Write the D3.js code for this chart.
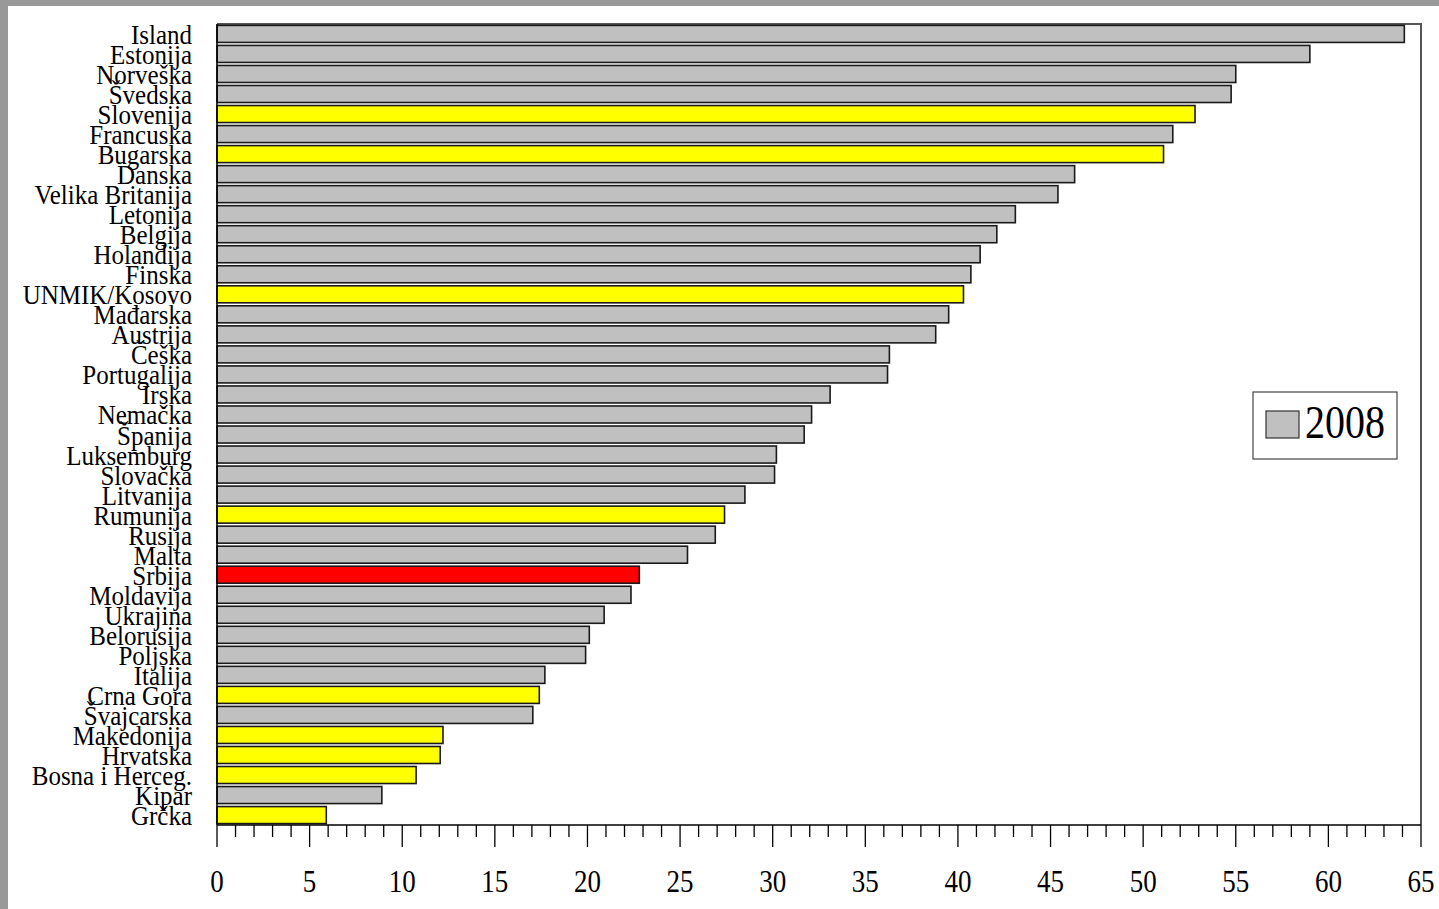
<!DOCTYPE html>
<html>
<head>
<meta charset="utf-8">
<script src="https://cdn.jsdelivr.net/npm/d3@7"></script>
<style>
  html, body { margin: 0; padding: 0; background: #fff; }
  svg { display: block; }
</style>
</head>
<body>
<div id="chart"></div>
<script>
const countries = [
    "Island", "Estonija", "Norveška", "Švedska", "Slovenija", "Francuska", "Bugarska",
    "Danska", "Velika Britanija", "Letonija", "Belgija", "Holandija", "Finska",
    "UNMIK/Kosovo", "Mađarska", "Austrija", "Češka", "Portugalija", "Irska",
    "Nemačka", "Španija", "Luksemburg", "Slovačka", "Litvanija", "Rumunija",
    "Rusija", "Malta", "Srbija", "Moldavija", "Ukrajina", "Belorusija", "Poljska",
    "Italija", "Crna Gora", "Švajcarska", "Makedonija", "Hrvatska", "Bosna i Herceg.",
    "Kipar", "Grčka"
];
const values2008 = [
    64.1, 59.0, 55.0, 54.75, 52.8, 51.6, 51.1,
    46.3, 45.4, 43.1, 42.1, 41.2, 40.7,
    40.3, 39.5, 38.8, 36.3, 36.2, 33.1,
    32.1, 31.7, 30.2, 30.1, 28.5, 27.4,
    26.9, 25.4, 22.8, 22.35, 20.9, 20.1, 19.9,
    17.7, 17.4, 17.05, 12.2, 12.05, 10.75,
    8.9, 5.9
];
// yellow = region neighbours, red = Serbia
const highlightYellow = ["Slovenija", "Bugarska", "UNMIK/Kosovo", "Rumunija", "Crna Gora",
    "Makedonija", "Hrvatska", "Bosna i Herceg.", "Grčka"];
const highlightRed = ["Srbija"];
const xTicks = d3.range(0, 66, 5);
const legendLabel = "2008";

const width = 1439, height = 909;
const plotLeft = 217, plotRight = 1421, plotTop = 24, plotBottom = 825;
const serif = "'Liberation Serif', 'Times New Roman', 'DejaVu Serif', serif";

const svg = d3.select("#chart").append("svg")
    .attr("width", width)
    .attr("height", height)
    .attr("font-family", serif);

// grey frame (top and left bands of the original screenshot)
svg.append("rect").attr("x", 0).attr("y", 0).attr("width", width).attr("height", 6).attr("fill", "#999");
svg.append("rect").attr("x", 0).attr("y", 0).attr("width", 8).attr("height", height).attr("fill", "#999");

const x = d3.scaleLinear().domain([0, 65]).range([plotLeft, plotRight]);
const y = d3.scaleBand().domain(countries).range([plotTop, plotBottom]).paddingInner(0.15).paddingOuter(0.07);

const data = countries.map((c, i) => ({ name: c, value: values2008[i] }));

function barColor(name) {
    if (highlightRed.includes(name)) return "#ff0000";
    if (highlightYellow.includes(name)) return "#ffff00";
    return "#c0c0c0";
}

// plot frame (top + right)
svg.append("path")
    .attr("d", `M${plotLeft},${plotTop}H${plotRight}V${plotBottom}`)
    .attr("fill", "none")
    .attr("stroke", "#555")
    .attr("stroke-width", 2);

svg.append("g").selectAll("rect")
    .data(data)
    .join("rect")
    .attr("x", x(0))
    .attr("y", d => y(d.name))
    .attr("width", d => x(d.value) - x(0))
    .attr("height", y.bandwidth())
    .attr("fill", d => barColor(d.name))
    .attr("stroke", "#1a1a1a")
    .attr("stroke-width", 1.6);

// left axis line
svg.append("line")
    .attr("x1", plotLeft).attr("x2", plotLeft)
    .attr("y1", plotTop).attr("y2", plotBottom)
    .attr("stroke", "#000").attr("stroke-width", 1.5);

// category labels
svg.append("g").selectAll("text")
    .data(data)
    .join("text")
    .attr("transform", d => `translate(192,${y(d.name) + y.bandwidth() / 2 + 10}) scale(1,1.1)`)
    .attr("text-anchor", "end")
    .attr("font-size", 25)
    .attr("fill", "#000")
    .text(d => d.name);

// x axis
const xAxis = svg.append("g");
xAxis.append("line")
    .attr("x1", plotLeft).attr("x2", plotRight)
    .attr("y1", plotBottom).attr("y2", plotBottom)
    .attr("stroke", "#000").attr("stroke-width", 1.5);

xAxis.selectAll("line.tick")
    .data(d3.range(0, 66, 1))
    .join("line")
    .attr("class", "tick")
    .attr("x1", d => x(d)).attr("x2", d => x(d))
    .attr("y1", plotBottom).attr("y2", d => d % 5 === 0 ? plotBottom + 22 : plotBottom + 12)
    .attr("stroke", "#000").attr("stroke-width", 1.3);

xAxis.selectAll("text")
    .data(xTicks)
    .join("text")
    .attr("transform", d => `translate(${x(d)},892) scale(1,1.15)`)
    .attr("text-anchor", "middle")
    .attr("font-size", 27)
    .attr("fill", "#000")
    .text(d => d);

// legend
const lg = svg.append("g");
lg.append("rect")
    .attr("x", 1253).attr("y", 392).attr("width", 144).attr("height", 67)
    .attr("fill", "#fff").attr("stroke", "#444").attr("stroke-width", 1.2);
lg.append("rect")
    .attr("x", 1266).attr("y", 411).attr("width", 33).attr("height", 27)
    .attr("fill", "#c0c0c0").attr("stroke", "#333").attr("stroke-width", 1.2);
lg.append("text")
    .attr("transform", "translate(1305,438) scale(1,1.15)")
    .attr("font-size", 40)
    .attr("fill", "#000")
    .text(legendLabel);
</script>
</body>
</html>
